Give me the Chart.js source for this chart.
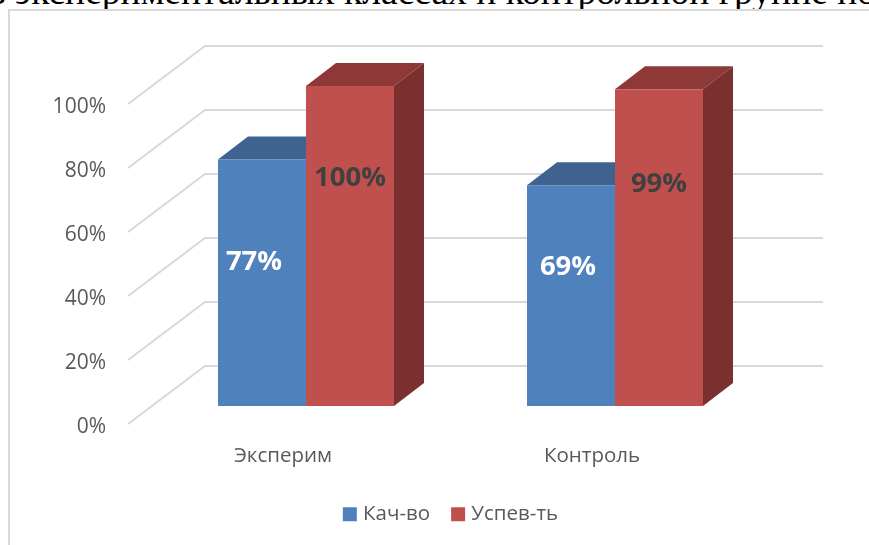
<!doctype html>
<html lang="ru">
<head>
<meta charset="utf-8">
<title>Качество и успеваемость</title>
<script src="https://cdn.jsdelivr.net/npm/chart.js@4"></script>
<style>
  html, body { margin: 0; height: 100%; background: #fff; overflow: hidden; }
  #heading {
    position: absolute; left: -12px; top: -30px; white-space: nowrap;
    font: 37.5px "Liberation Serif", serif; color: #000;
  }
  #frame {
    position: absolute; left: 8px; top: 9px; width: 1000px; height: 700px;
    border: 2px solid #d9d9d9; box-sizing: border-box; background: #fff;
  }
  #wrap { position: absolute; left: 0; top: 0; width: 869px; height: 545px; }
</style>
</head>
<body>
<div id="heading">в экспериментальных классах и контрольной группе по</div>
<div id="frame"></div>
<div id="wrap"><canvas id="barChart"></canvas></div>

<script>
const categories = ['Эксперим', 'Контроль'];
const seriesNames = ['Кач-во', 'Успев-ть'];
const kachestvo = [77, 69];
const uspevaemost = [100, 99];

const frontColors = ['#4f81bd', '#c0504d'];
const topColors = ['#3e6390', '#8e3938'];
const sideColors = ['#31507a', '#7a302e'];
const labelColors = ['#ffffff', '#404040'];

const FONT = '"Open Sans", sans-serif';
const barDepth = { x: 30, y: 23 };

// fake 3d: walls behind the bars, depth faces of the bars, then the value labels
const fake3d = {
  id: 'fake3d',
  beforeDatasetsDraw(chart) {
    const ctx = chart.ctx;
    const y = chart.scales.y;

    ctx.save();
    ctx.strokeStyle = '#d9d9d9';
    ctx.lineWidth = 2;
    y.ticks.forEach(function (t) {
      const p = y.getPixelForValue(t.value);
      ctx.beginPath();
      ctx.moveTo(128, p + 18);
      ctx.lineTo(205, p - 40);
      ctx.lineTo(823, p - 40);
      ctx.stroke();
    });

    chart.data.datasets.forEach(function (ds, i) {
      chart.getDatasetMeta(i).data.forEach(function (bar) {
        const left = bar.x - bar.width / 2;
        const right = bar.x + bar.width / 2;

        ctx.fillStyle = topColors[i];
        ctx.beginPath();
        ctx.moveTo(left, bar.y);
        ctx.lineTo(left + barDepth.x, bar.y - barDepth.y);
        ctx.lineTo(right + barDepth.x, bar.y - barDepth.y);
        ctx.lineTo(right, bar.y);
        ctx.closePath();
        ctx.fill();

        ctx.fillStyle = sideColors[i];
        ctx.beginPath();
        ctx.moveTo(right, bar.y);
        ctx.lineTo(right + barDepth.x, bar.y - barDepth.y);
        ctx.lineTo(right + barDepth.x, bar.base - barDepth.y);
        ctx.lineTo(right, bar.base);
        ctx.closePath();
        ctx.fill();
      });
    });
    ctx.restore();
  },
  afterDatasetsDraw(chart) {
    const ctx = chart.ctx;
    // labels were moved by hand in the original, so they are nudged here
    const nudge = [[[-8, -21], [-3, -28]], [[0, -68], [0, -63]]];
    ctx.save();
    ctx.font = 'bold 27.5px ' + FONT;
    ctx.textAlign = 'center';
    ctx.textBaseline = 'middle';
    chart.data.datasets.forEach(function (ds, i) {
      ctx.fillStyle = labelColors[i];
      chart.getDatasetMeta(i).data.forEach(function (bar, j) {
        const midY = (bar.y + bar.base) / 2;
        ctx.fillText(ds.data[j] + '%', bar.x + nudge[i][j][0], midY + nudge[i][j][1]);
      });
    });
    ctx.restore();
  }
};

new Chart(document.getElementById('barChart'), {
  type: 'bar',
  data: {
    labels: categories,
    datasets: [
      { label: seriesNames[0], data: kachestvo, backgroundColor: frontColors[0] },
      { label: seriesNames[1], data: uspevaemost, backgroundColor: frontColors[1] }
    ]
  },
  plugins: [fake3d],
  options: {
    responsive: true,
    maintainAspectRatio: false,
    animation: false,
    layout: { padding: { left: 36, top: 86, right: 0, bottom: 10.5 } },
    datasets: { bar: { barPercentage: 1, categoryPercentage: 0.5696, borderWidth: 0 } },
    scales: {
      x: {
        grid: { display: false },
        border: { display: false },
        ticks: {
          color: '#595959',
          font: { family: FONT, size: 20.5 },
          labelOffset: -23,
          padding: 30,
          maxRotation: 0
        },
        afterFit(scale) { scale.height = 73; }
      },
      y: {
        min: 0,
        max: 100,
        grid: { display: false },
        border: { display: false },
        ticks: {
          stepSize: 20,
          color: '#595959',
          font: { family: FONT, size: 21 },
          padding: 37.5,
          labelOffset: 21,
          callback: function (v) { return v + '%'; }
        },
        afterFit(scale) { scale.width = 115.5; }
      },
      // empty axis, only keeps the plot area off the right side
      spacer: {
        position: 'right',
        grid: { display: false },
        border: { display: false },
        ticks: { display: false },
        afterFit(scale) { scale.width = 99.5; }
      }
    },
    plugins: {
      tooltip: { enabled: false },
      legend: {
        position: 'bottom',
        labels: {
          color: '#595959',
          font: { family: FONT, size: 20.5 },
          boxWidth: 6,
          boxHeight: 6,
          padding: 25,
          generateLabels(chart) {
            return Chart.defaults.plugins.legend.labels.generateLabels(chart).map(function (item) {
              item.strokeStyle = item.fillStyle;
              item.lineWidth = 8;
              return item;
            });
          }
        }
      }
    }
  }
});
</script>
</body>
</html>
